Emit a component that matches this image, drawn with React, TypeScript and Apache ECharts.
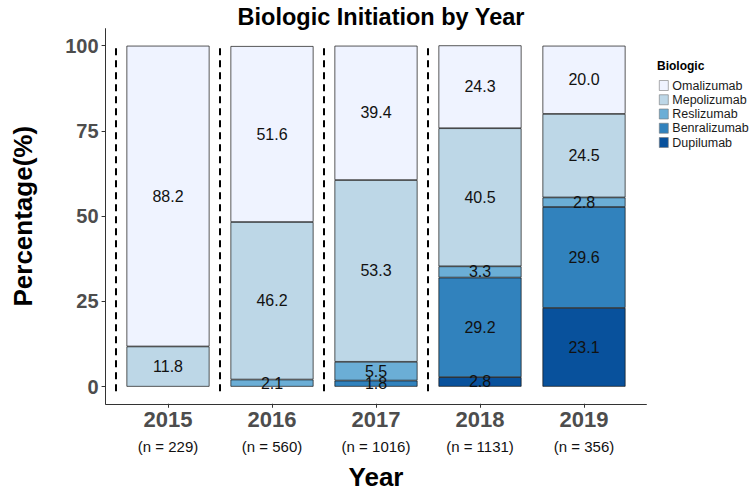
import React, { useEffect, useRef } from "react";
import * as echarts from "echarts";

const years = ["2015", "2016", "2017", "2018", "2019"];
const nLabels = ["(n = 229)", "(n = 560)", "(n = 1016)", "(n = 1131)", "(n = 356)"];
const xPositions = [1, 2, 3, 4, 5];

const omalizumab = [88.2, 51.6, 39.4, 24.3, 20.0];
const mepolizumab = [11.8, 46.2, 53.3, 40.5, 24.5];
const reslizumab = [null, 2.1, 5.5, 3.3, 2.8];
const benralizumab = [null, null, 1.8, 29.2, 29.6];
const dupilumab = [null, null, null, 2.8, 23.1];

const dividerPositions = [0.5, 1.5, 2.5, 3.5];
const dividerRange = [-1.3, 100];
const yTicks = [0, 25, 50, 75, 100];

const legendOrder = ["Omalizumab", "Mepolizumab", "Reslizumab", "Benralizumab", "Dupilumab"];
const colors: Record<string, string> = {
  Omalizumab: "#EFF3FF",
  Mepolizumab: "#BDD7E7",
  Reslizumab: "#6BAED6",
  Benralizumab: "#3182BD",
  Dupilumab: "#08519C",
};

const FONT = "'Liberation Sans', Arial, Helvetica, sans-serif";

export default function App() {
  const ref = useRef<HTMLDivElement>(null);

  useEffect(() => {
    if (!ref.current) return;
    const chart = echarts.init(ref.current, undefined, { renderer: "svg" });

    const stackSeries = [
      { name: "Dupilumab", values: dupilumab },
      { name: "Benralizumab", values: benralizumab },
      { name: "Reslizumab", values: reslizumab },
      { name: "Mepolizumab", values: mepolizumab },
      { name: "Omalizumab", values: omalizumab },
    ];

    const barSeries = stackSeries.map((s) => ({
      name: s.name,
      type: "bar",
      stack: "total",
      xAxisIndex: 1,
      yAxisIndex: 1,
      barWidth: 83,
      data: s.values.map((v) => (v == null ? "-" : v)),
      itemStyle: {
        color: colors[s.name],
        borderColor: "#111",
        borderWidth: 0.7,
      },
      label: {
        show: true,
        position: "inside",
        fontSize: 16,
        fontFamily: FONT,
        color: "#111",
        formatter: (p: any) => Number(p.value).toFixed(1),
      },
      emphasis: { disabled: true },
    }));

    const dividerSeries = dividerPositions.map((x, i) => ({
      name: "divider" + i,
      type: "line",
      xAxisIndex: 0,
      yAxisIndex: 0,
      data: [
        [x, dividerRange[0]],
        [x, dividerRange[1]],
      ],
      symbol: "none",
      lineStyle: { color: "#000", width: 2, type: [7, 5] },
      silent: true,
      z: 5,
    }));

    chart.setOption({
      animation: false,
      backgroundColor: "#fff",
      textStyle: { fontFamily: FONT },
      title: {
        text: "Biologic Initiation by Year",
        left: 376,
        textAlign: "center",
        top: 0,
        textStyle: { fontSize: 23.5, fontWeight: "bold", color: "#000", fontFamily: FONT },
      },
      grid: [
        { left: 105.6, right: 103.6, top: 28.65, bottom: 87.25, containLabel: false, outerBoundsMode: "none" },
        { left: 116, right: 114, top: 28.65, bottom: 87.25, containLabel: false, outerBoundsMode: "none" },
      ],
      legend: {
        data: legendOrder,
        orient: "vertical",
        left: 659,
        top: 79,
        itemWidth: 9,
        itemHeight: 10,
        itemGap: 1.25,
        padding: 0,
        icon: "rect",
        selectedMode: false,
        itemStyle: { borderColor: "#777", borderWidth: 0.6 },
        textStyle: { fontSize: 12.5, color: "#1a1a1a", fontFamily: FONT, lineHeight: 10, padding: [0, 0, 0, -1] },
      },
      graphic: [
        {
          type: "text",
          left: 657,
          top: 60,
          style: { text: "Biologic", fontSize: 12, fontWeight: "bold", fill: "#000", fontFamily: FONT },
        },
      ],
      xAxis: [
        {
          type: "value",
          gridIndex: 0,
          min: 0.4,
          max: 5.6,
          name: "Year",
          nameLocation: "middle",
          nameGap: 60,
          nameTextStyle: { fontSize: 26, fontWeight: "bold", color: "#000", fontFamily: FONT },
          axisLine: { show: true, onZero: false, lineStyle: { color: "#333", width: 1 } },
          axisTick: { show: true, length: 4, lineStyle: { color: "#333" }, customValues: xPositions },
          splitLine: { show: false },
          axisLabel: {
            customValues: xPositions,
            margin: 3,
            formatter: (v: number) => {
              const i = xPositions.indexOf(Math.round(v));
              return i < 0 ? "" : `{a|${years[i]}}\n{b|${nLabels[i]}}`;
            },
            rich: {
              a: { fontSize: 22, fontWeight: "bold", color: "#4D4D4D", lineHeight: 26, fontFamily: FONT },
              b: { fontSize: 15, color: "#111", lineHeight: 28, fontFamily: FONT },
            },
          },
        },
        {
          type: "category",
          gridIndex: 1,
          data: years,
          boundaryGap: true,
          show: false,
        },
      ],
      yAxis: [
        {
          type: "value",
          gridIndex: 0,
          min: -5,
          max: 105,
          name: "Percentage(%)",
          nameLocation: "middle",
          nameGap: 70,
          nameRotate: 90,
          nameTextStyle: { fontSize: 26, fontWeight: "bold", color: "#000", fontFamily: FONT },
          axisLine: { show: true, onZero: false, lineStyle: { color: "#333", width: 1 } },
          axisTick: { show: true, length: 4, lineStyle: { color: "#333" }, customValues: yTicks },
          splitLine: { show: false },
          axisLabel: {
            customValues: yTicks,
            margin: 7,
            fontSize: 20,
            fontWeight: "bold",
            color: "#4D4D4D",
            fontFamily: FONT,
          },
        },
        {
          type: "value",
          gridIndex: 1,
          min: -5,
          max: 105,
          show: false,
          splitLine: { show: false },
        },
      ],
      series: [...barSeries, ...dividerSeries],
    });

    return () => chart.dispose();
  }, []);

  return (
    <div
      ref={ref}
      style={{ position: "fixed", left: 0, top: 0, width: 750, height: 491, background: "#fff" }}
    />
  );
}
